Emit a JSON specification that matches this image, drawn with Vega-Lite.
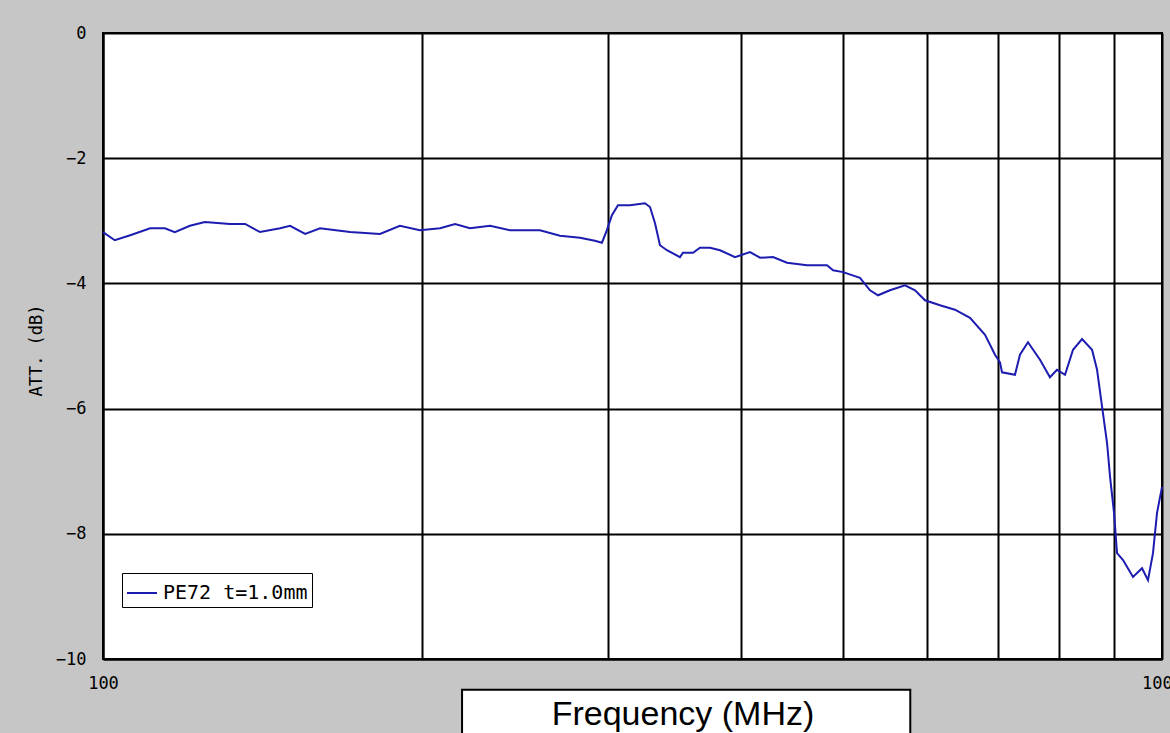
{
  "$schema": "https://vega.github.io/schema/vega-lite/v6.json",
  "width": 1059,
  "height": 626,
  "autosize": {"type": "none"},
  "padding": {"left": 103, "top": 33, "right": 8, "bottom": 74},
  "background": "#c6c6c6",
  "config": {
    "view": {"fill": "white", "stroke": "black", "strokeWidth": 2},
    "axis": {
      "grid": true, "gridColor": "black", "gridWidth": 2, "gridOpacity": 1,
      "domainColor": "black", "domainWidth": 2, "ticks": false,
      "labelFont": "DejaVu Sans Mono", "labelFontSize": 17, "labelColor": "black"
    }
  },
  "layer": [
    {
      "data": {"values": [
        {"freq": 100, "att": -3.18}, {"freq": 102.6, "att": -3.31}, {"freq": 106.1, "att": -3.23},
        {"freq": 110.8, "att": -3.12}, {"freq": 114.4, "att": -3.12}, {"freq": 116.9, "att": -3.18},
        {"freq": 120.8, "att": -3.08}, {"freq": 124.8, "att": -3.02}, {"freq": 131.8, "att": -3.05},
        {"freq": 136.2, "att": -3.05}, {"freq": 140.7, "att": -3.18}, {"freq": 147.0, "att": -3.12},
        {"freq": 150.2, "att": -3.08}, {"freq": 155.2, "att": -3.21}, {"freq": 160.3, "att": -3.12},
        {"freq": 171.1, "att": -3.18}, {"freq": 182.6, "att": -3.21}, {"freq": 190.7, "att": -3.08},
        {"freq": 199.2, "att": -3.15}, {"freq": 208.1, "att": -3.12}, {"freq": 215.0, "att": -3.05},
        {"freq": 222.1, "att": -3.12}, {"freq": 232.0, "att": -3.08}, {"freq": 242.3, "att": -3.15},
        {"freq": 258.6, "att": -3.15}, {"freq": 270.1, "att": -3.24}, {"freq": 282.1, "att": -3.27},
        {"freq": 291.4, "att": -3.32}, {"freq": 295.9, "att": -3.35}, {"freq": 299.1, "att": -3.15},
        {"freq": 302.4, "att": -2.91}, {"freq": 306.4, "att": -2.75}, {"freq": 314.5, "att": -2.75},
        {"freq": 324.9, "att": -2.72}, {"freq": 328.5, "att": -2.78}, {"freq": 332.1, "att": -3.04},
        {"freq": 335.7, "att": -3.39}, {"freq": 340.8, "att": -3.47}, {"freq": 350.6, "att": -3.58},
        {"freq": 352.9, "att": -3.51}, {"freq": 360.7, "att": -3.51}, {"freq": 366.2, "att": -3.43},
        {"freq": 374.3, "att": -3.43}, {"freq": 382.5, "att": -3.47}, {"freq": 395.2, "att": -3.58},
        {"freq": 408.3, "att": -3.50}, {"freq": 417.3, "att": -3.59}, {"freq": 429.2, "att": -3.58},
        {"freq": 442.5, "att": -3.67}, {"freq": 462.2, "att": -3.71}, {"freq": 482.7, "att": -3.71},
        {"freq": 489.1, "att": -3.79}, {"freq": 499.8, "att": -3.82}, {"freq": 518.6, "att": -3.91},
        {"freq": 530.0, "att": -4.11}, {"freq": 539.3, "att": -4.19}, {"freq": 553.5, "att": -4.11},
        {"freq": 571.9, "att": -4.03}, {"freq": 584.5, "att": -4.11}, {"freq": 597.3, "att": -4.27},
        {"freq": 617.1, "att": -4.35}, {"freq": 637.5, "att": -4.42}, {"freq": 658.7, "att": -4.55},
        {"freq": 680.6, "att": -4.82}, {"freq": 695.5, "att": -5.14}, {"freq": 703.1, "att": -5.26},
        {"freq": 706.2, "att": -5.42}, {"freq": 726.4, "att": -5.46}, {"freq": 734.3, "att": -5.14},
        {"freq": 747.2, "att": -4.94}, {"freq": 767.0, "att": -5.22}, {"freq": 783.8, "att": -5.50},
        {"freq": 795.9, "att": -5.38}, {"freq": 809.9, "att": -5.46}, {"freq": 824.1, "att": -5.06},
        {"freq": 840.4, "att": -4.89}, {"freq": 858.9, "att": -5.06}, {"freq": 868.3, "att": -5.38},
        {"freq": 877.8, "att": -5.97}, {"freq": 887.4, "att": -6.55}, {"freq": 893.2, "att": -7.09},
        {"freq": 901.0, "att": -7.67}, {"freq": 906.9, "att": -8.31}, {"freq": 918.8, "att": -8.42},
        {"freq": 938.9, "att": -8.69}, {"freq": 957.5, "att": -8.55}, {"freq": 970.0, "att": -8.74},
        {"freq": 980.6, "att": -8.31}, {"freq": 989.2, "att": -7.67}, {"freq": 1000, "att": -7.25}
      ]},
      "mark": {"type": "line", "strokeWidth": 2},
      "encoding": {
        "x": {
          "field": "freq", "type": "quantitative",
          "scale": {"type": "log", "domain": [100, 1000], "nice": false},
          "axis": {
            "values": [100, 200, 300, 400, 500, 600, 700, 800, 900, 1000],
            "labelExpr": "datum.value == 100 || datum.value == 1000 ? format(datum.value, 'd') : ''",
            "labelPadding": 16, "labelFlush": false, "labelOverlap": false, "title": null
          }
        },
        "y": {
          "field": "att", "type": "quantitative",
          "scale": {"domain": [-10, 0], "nice": false},
          "axis": {
            "values": [-10, -8, -6, -4, -2, 0],
            "format": "d",
            "labelPadding": 17,
            "title": "ATT. (dB)",
            "titleFont": "DejaVu Sans Mono", "titleFontSize": 17, "titleFontWeight": "normal",
            "titleColor": "black", "titleX": -67, "titleY": 317,
            "titleAngle": 270, "titleBaseline": "middle", "titleAlign": "center"
          }
        },
        "color": {
          "datum": "PE72 t=1.0mm", "type": "nominal",
          "scale": {"range": ["#1c1cb0"]},
          "legend": {
            "orient": "none", "legendX": 19, "legendY": 540,
            "title": null, "strokeColor": "black", "fillColor": "white",
            "padding": 4, "symbolType": "stroke", "symbolSize": 900,
            "symbolStrokeWidth": 2, "labelFont": "DejaVu Sans Mono",
            "labelFontSize": 20, "labelColor": "black", "labelOffset": 5
          }
        }
      }
    },
    {
      "data": {"values": [{}]},
      "mark": {"type": "rect", "fill": "white", "stroke": "black", "strokeWidth": 2},
      "encoding": {
        "x": {"datum": 218.3, "type": "quantitative"},
        "x2": {"datum": 578.5},
        "y": {"datum": -10.49, "type": "quantitative"},
        "y2": {"datum": -11.6}
      }
    },
    {
      "data": {"values": [{"label": "Frequency (MHz)"}]},
      "mark": {"type": "text", "font": "Liberation Sans", "fontSize": 34, "color": "black", "baseline": "alphabetic", "align": "center"},
      "encoding": {
        "x": {"datum": 352.9, "type": "quantitative"},
        "y": {"datum": -11.05, "type": "quantitative"},
        "text": {"field": "label"}
      }
    }
  ]
}
